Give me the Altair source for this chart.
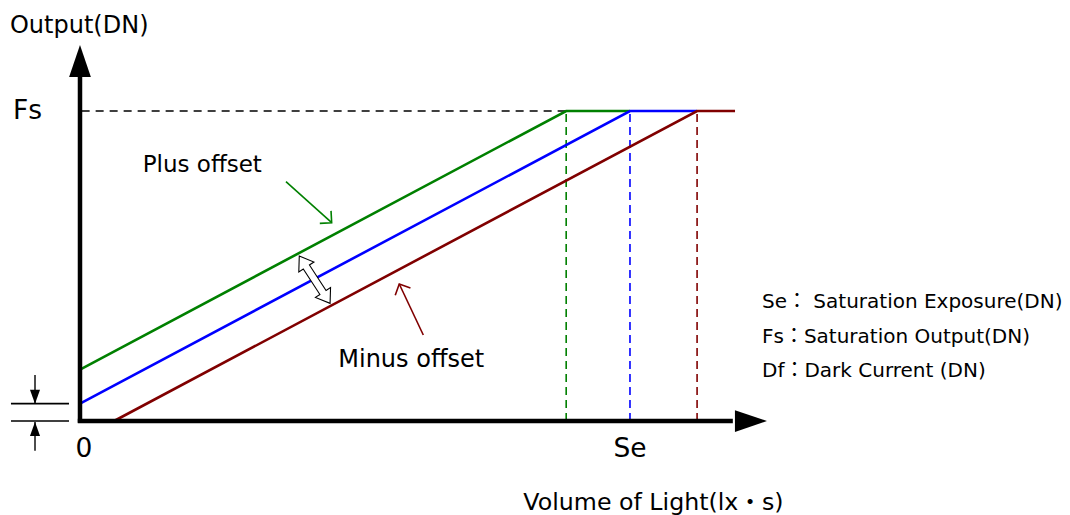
import math
import altair as alt
import pandas as pd

# ---------------- data (schematic units: Se = 100, Fs = 100) ----------------
series = ["Plus offset", "Normal", "Minus offset"]
series_colors = ["#008000", "#0000ff", "#800000"]
line_start_x = [0.0, 0.0, 6.2]
line_start_y = [16.6, 5.6, 0.0]
sat_x = [88.4, 100.0, 112.2]          # saturation exposure of each curve
line_end_x = [100.0, 112.2, 119.1]
FS = 100.0                              # saturation output
DF = 5.6                                # dark current

axis_x_end, axis_x_tip = 118.7, 124.9
axis_y_end, axis_y_tip = 110.97, 121.29

df_mark_x = [-12.55, -2.0]
df_arrow_x = -8.18
df_arrow_tail = [14.84, -9.58]
df_arrow_tip = [DF, -0.3]

pointer_start = [(37.45, 77.2), (62.42, 27.74)]
pointer_tip = [(45.76, 63.97), (58.05, 44.19)]
pointer_color = ["#008000", "#800000"]

dbl_center = (42.67, 45.58)
dbl_top = (39.87, 53.2)

label_text = ["Output(DN)", "Fs", "0", "Se", "Volume of Light(lx・s)", "Plus offset", "Minus offset",
              "Se： Saturation Exposure(DN)", "Fs：Saturation Output(DN)", "Df：Dark Current (DN)"]
label_x = [-12.73, -12.2, 0.73, 100.0, 104.27, 11.4, 46.96, 124.0, 124.0, 124.0]
label_y = [125.06, 97.3, -11.6, -11.6, -28.8, 80.4, 17.3, 36.35, 25.06, 14.1]
label_size = [24, 26.5, 26.5, 26.5, 23.7, 23, 24, 20, 20, 20]
label_align = ["left", "left", "center", "center", "center", "left", "left", "left", "left", "left"]

# ---------------- frame ----------------
W, H = 1054, 507
X_DOMAIN = [-13.09, 178.55]
Y_DOMAIN = [-30.32, 133.23]
KX = W / (X_DOMAIN[1] - X_DOMAIN[0])
KY = H / (Y_DOMAIN[1] - Y_DOMAIN[0])
FONT = "DejaVu Sans, Noto Sans CJK JP"


def ang(dx, dy):
    return math.degrees(math.atan2(dx * KX, dy * KY)) % 360


xs = alt.Scale(domain=X_DOMAIN, nice=False, zero=False)
ys = alt.Scale(domain=Y_DOMAIN, nice=False, zero=False)


def X(f="x"):
    return alt.X(f"{f}:Q", scale=xs, axis=None)


def Y(f="y"):
    return alt.Y(f"{f}:Q", scale=ys, axis=None)


color_enc = alt.Color("series:N", scale=alt.Scale(domain=series, range=series_colors), legend=None)

rows = []
for i, s in enumerate(series):
    rows += [
        {"series": s, "o": 0, "x": line_start_x[i], "y": line_start_y[i]},
        {"series": s, "o": 1, "x": sat_x[i], "y": FS},
        {"series": s, "o": 2, "x": line_end_x[i], "y": FS},
    ]
lines_df = pd.DataFrame(rows)
lines = alt.Chart(lines_df).mark_line(strokeWidth=2.6).encode(
    x=X(), y=Y(), color=color_enc, detail="series:N", order="o:Q")

vdash_df = pd.DataFrame({"series": series, "x": sat_x, "y": [0.0] * 3, "y2": [FS] * 3})
vdash = alt.Chart(vdash_df).mark_rule(strokeDash=[8, 5], strokeWidth=1.6).encode(
    x=X(), y=Y(), y2="y2:Q", color=color_enc)

fs_df = pd.DataFrame({"x": [0.3], "x2": [sat_x[0]], "y": [FS]})
fsline = alt.Chart(fs_df).mark_rule(strokeDash=[8, 6], strokeWidth=1.4, color="black").encode(
    x=X(), x2="x2:Q", y=Y())

axes_df = pd.DataFrame({"x": [0.0, -0.4], "x2": [0.0, axis_x_end], "y": [-0.6, 0.0], "y2": [axis_y_end, 0.0]})
axes = alt.Chart(axes_df).mark_rule(strokeWidth=4.5, color="black").encode(
    x=X(), x2="x2:Q", y=Y(), y2="y2:Q")

TIP = "M 0 0 L 0.34 1 L -0.34 1 Z"
heads_df = pd.DataFrame({"x": [0.0, axis_x_tip], "y": [axis_y_tip, 0.0], "angle": [0.0, 90.0]})
heads = alt.Chart(heads_df).mark_point(shape=TIP, size=4096, filled=True, color="black", opacity=1).encode(
    x=X(), y=Y(), angle=alt.Angle("angle:Q", scale=None))

# Df markers
dfl_df = pd.DataFrame({"x": [df_mark_x[0]] * 2, "x2": [df_mark_x[1]] * 2, "y": [DF, 0.0]})
dflines = alt.Chart(dfl_df).mark_rule(strokeWidth=1.6, color="black").encode(x=X(), x2="x2:Q", y=Y())
dfs_df = pd.DataFrame({"x": [df_arrow_x] * 2, "y": df_arrow_tail, "y2": df_arrow_tip})
dfshaft = alt.Chart(dfs_df).mark_rule(strokeWidth=1.4, color="black").encode(x=X(), y=Y(), y2="y2:Q")
SMALL = "M 0 0 L 0.36 1 L -0.36 1 Z"
dfh_df = pd.DataFrame({"x": [df_arrow_x] * 2, "y": df_arrow_tip,
                       "angle": [ang(0, df_arrow_tip[i] - df_arrow_tail[i]) for i in range(2)]})
dfheads = alt.Chart(dfh_df).mark_point(shape=SMALL, size=784, filled=True, color="black", opacity=1).encode(
    x=X(), y=Y(), angle=alt.Angle("angle:Q", scale=None))

# pointers
ptr_df = pd.DataFrame({
    "x": [p[0] for p in pointer_start], "y": [p[1] for p in pointer_start],
    "x2": [p[0] for p in pointer_tip], "y2": [p[1] for p in pointer_tip],
    "c": pointer_color,
    "angle": [ang(pointer_tip[i][0] - pointer_start[i][0], pointer_tip[i][1] - pointer_start[i][1]) for i in range(2)],
})
ptr = alt.Chart(ptr_df).mark_rule(strokeWidth=1.6).encode(
    x=X(), y=Y(), x2="x2:Q", y2="y2:Q", color=alt.Color("c:N", scale=None))
OPEN = "M -0.7 0.7 L 0 0 L 0.7 0.7"
ptrh = alt.Chart(ptr_df).mark_point(shape=OPEN, size=576, filled=False, strokeWidth=1.6, opacity=1).encode(
    x=X("x2"), y=Y("y2"), color=alt.Color("c:N", scale=None), angle=alt.Angle("angle:Q", scale=None))

# double arrow
DBL = ("M 0 -1 L 0.32 -0.54 L 0.13 -0.54 L 0.13 0.54 L 0.32 0.54 L 0 1 "
       "L -0.32 0.54 L -0.13 0.54 L -0.13 -0.54 L -0.32 -0.54 Z")
dlen = math.hypot((dbl_top[0] - dbl_center[0]) * KX, (dbl_top[1] - dbl_center[1]) * KY) * 2
dbl_df = pd.DataFrame({"x": [dbl_center[0]], "y": [dbl_center[1]],
                       "angle": [ang(dbl_top[0] - dbl_center[0], dbl_top[1] - dbl_center[1])]})
dbl = alt.Chart(dbl_df).mark_point(shape=DBL, size=dlen ** 2, fill="white", stroke="black",
                                   strokeWidth=1.1, filled=True, opacity=1, fillOpacity=1).encode(
    x=X(), y=Y(), angle=alt.Angle("angle:Q", scale=None))

# labels
lab_df = pd.DataFrame({"t": label_text, "x": label_x, "y": label_y, "s": label_size, "a": label_align})
texts = []
for a in ["left", "center"]:
    sub = lab_df[lab_df.a == a]
    texts.append(alt.Chart(sub).mark_text(align=a, baseline="alphabetic", font=FONT, color="black").encode(
        x=X(), y=Y(), text="t:N", size=alt.Size("s:Q", scale=None)))

chart = alt.layer(fsline, vdash, lines, axes, heads, dflines, dfshaft, dfheads, ptr, ptrh, dbl, *texts).properties(
    width=W, height=H, padding=0, autosize="none", background="white"
).configure_view(stroke=None)

chart.save("out.html", embed_options={"renderer": "svg", "actions": False})
